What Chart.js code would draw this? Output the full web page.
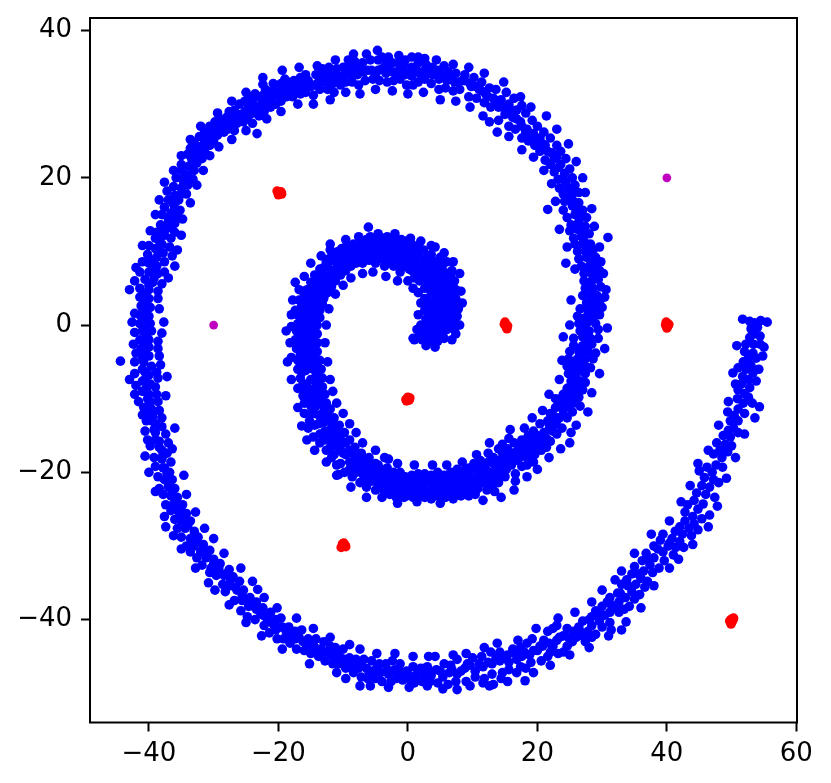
<!DOCTYPE html>
<html><head><meta charset="utf-8">
<style>html,body{margin:0;padding:0;background:#fff}canvas{display:block}</style>
<script src="https://cdn.jsdelivr.net/npm/chart.js@4"></script>
</head><body><canvas id="c" width="831" height="783"></canvas>
<script>
const xTicks=[-40,-20,0,20,40,60];
const yTicks=[-40,-20,0,20,40];
const redPoints=[[-20.2,18.2],[-19.8,17.9],[-19.5,17.8],[-19.9,18],[-19.6,18.1],[-20,17.7],[15,0.4],[15.1,0],[15.2,-0.3],[15.3,-0.5],[14.9,0.1],[15.4,-0.1],[39.9,0.4],[40,0],[40.2,-0.1],[40,-0.4],[39.8,0],[40.3,0.1],[-0.3,-10.1],[0,-9.8],[0.2,-10.2],[0.1,-10],[-0.2,-10.3],[0.3,-9.9],[-10.3,-30.2],[-10,-30],[-9.9,-29.6],[-9.7,-29.9],[-10.1,-29.7],[-9.6,-30.1],[49.9,-40],[50.1,-39.9],[50,-40.4],[49.9,-40.6],[50.2,-40.1],[49.7,-40.2],[50.3,-39.8]];
const purplePoints=[[40,20],[-30,0]];
const tailArm=[[55.5,0.4],[54.5,0.6],[53.5,0.3],[52.8,0.5],[51.7,0.8],[53,-0.5],[54,-0.3],[53.6,-1.2],[54.4,-1.5],[52.8,-1.7],[53.4,-2.6],[52.2,-2.6],[54.4,-2.6],[52,-3.6],[53.3,-3.8],[52.6,-4.5],[53.8,-4.5],[54.8,-4.2],[51.8,-5],[53,-5.5],[52.2,-6],[53.3,-6.5],[50.2,-6.5],[51.7,-7],[52.6,-7.4],[53.8,-7.6],[51.5,-8],[52.8,-8.5],[51,-8.8],[52,-9.3],[52.6,-9.8],[50.9,-10],[49.5,-10.4],[51.8,-10.6],[53.2,-10.6],[54.3,-11.1],[51,-11.4],[52,-12],[50.4,-12.3],[49.8,-13],[51,-13],[50.3,-14],[49.5,-14.3],[51,-14.6],[48.7,-15],[49.8,-15.2],[47.7,-16],[49,-16.2],[50,-16.4],[48.2,-17],[49.4,-17.2],[47.2,-17.5],[48.5,-18],[44.8,-18.8],[46.2,-19.3],[47.6,-19],[48.6,-19.3],[47,-20],[45.8,-20.7],[47.2,-21],[48,-21.4],[45.4,-21.8],[46.6,-22],[44.6,-22.8],[46,-23],[47.4,-23.4],[44.2,-23.8],[45.6,-24.3],[43.2,-24.4],[44.8,-25],[46.6,-25.8],[42.8,-25.4],[44,-26],[45.4,-26.3],[42.8,-26.6],[44.2,-27],[42,-27.4],[43.4,-27.6],[44.8,-27.8],[41.3,-28],[42.4,-28.4],[43.8,-28.6],[39.4,-28.4],[40.8,-29],[42,-29.4],[39,-29.2],[40.2,-30],[41.4,-30.2],[42.6,-30.2],[38,-30],[39.4,-30.8],[41,-31.2],[36.8,-31],[38,-31.6],[39.6,-32],[36.2,-32],[37.4,-32.6],[38.8,-33],[35,-32.8],[36.4,-33.4],[37.8,-33.6],[34.6,-33.8],[36,-34.4],[37,-34.8],[32,-34.6],[33.8,-34.6],[35.2,-35.2],[36.6,-35.6],[33,-35.2],[34.6,-36.2],[35.8,-36.6],[32.4,-36.4],[33.6,-37],[35,-37.2],[31.2,-37],[32.6,-37.6],[34.2,-38.2],[30.8,-37.6],[32.2,-38.4],[33.4,-38.6],[30,-38.2],[31.2,-39],[32.6,-39],[33.7,-40.3],[29,-38.8],[30.4,-39.4],[28.4,-39.6],[29.6,-40.2],[31.2,-40.4],[27,-40.2],[28.4,-40.8],[30,-41],[26.4,-41],[27.8,-41.6],[29,-42],[31,-42.2],[25.6,-41.6],[27,-42.2],[28.4,-42.4],[23,-40.8],[24.6,-41.2],[26,-42.4],[27.4,-43],[22.4,-41.2],[24,-42.2],[25.4,-43],[21.6,-41.6],[23,-42.8],[24.6,-43.6],[21,-42.8],[22.4,-43.6],[24,-44.4],[19.2,-42.6],[20.8,-43.6],[22,-44.4],[23.2,-44.6],[18.4,-43.2],[20,-44.2],[21.6,-45],[17.4,-43.8],[18.8,-44.8],[20.6,-45.6],[16.2,-44],[17.6,-45],[19,-45.8],[15.4,-44.8],[16.8,-45.4],[18.2,-46.6],[14.2,-44.4],[15.6,-45.8],[17.4,-46.4],[18.1,-48.3],[12.8,-44.4],[14.2,-45.6],[15.6,-46.8],[16.8,-47.2],[11.4,-45],[13,-46],[14.6,-47.2],[10,-45.2],[11.6,-46.4],[13,-47.4],[14.4,-48],[9.2,-46],[10.4,-47],[11.8,-48],[13.2,-48.8],[7.6,-45.4],[8.8,-46.6],[10.4,-47.8],[11.6,-48.6],[6.6,-46.2],[7.6,-47.4],[9,-48.4],[7.6,-49.5],[5.6,-46],[6.4,-47.2],[7.4,-48.4],[4.2,-45],[4.4,-46.8],[5.4,-47.8],[6.2,-48.8],[3,-46.4],[3.6,-47.6],[4.6,-48.6],[2,-46.6],[2.6,-47.6],[3.4,-48.4],[0.8,-46.4],[1.2,-47.6],[2.2,-48.4],[-0.2,-47],[0.2,-48],[1,-48.6]];
const bottomArm=[[-1.2,-46],[-1,-47.2],[-0.8,-48.2],[-2.4,-45.6],[-2,-46.8],[-1.8,-48],[-3.4,-46],[-3,-47.4],[-2.6,-48.4],[-4.4,-46],[-4.2,-47.2],[-4,-48.4],[-5.8,-49],[-5.6,-45.6],[-5.4,-47],[-5,-48],[-6.8,-45.4],[-6.4,-46.6],[-6.2,-48],[-8,-45.4],[-7.6,-46.6],[-7.2,-47.8],[-9,-45.2],[-8.8,-46.4],[-8.4,-47.2],[-10,-44],[-9.8,-45.4],[-9.6,-46.6],[-11.2,-43.8],[-10.8,-44.8],[-10.6,-46],[-12,-43.6],[-11.8,-44.8],[-11.6,-46],[-13,-43],[-13,-44.4],[-12.8,-45.6],[-14.2,-42.6],[-14,-44],[-13.8,-45],[-15.4,-42.6],[-15.2,-43.6],[-15,-44.6],[-16.4,-41.4],[-16.2,-43],[-16,-44.2],[-17.4,-41.6],[-17.4,-42.6],[-17.2,-44],[-18.4,-41],[-18.4,-42.2],[-18.2,-43.2],[-19.6,-39.8],[-19.4,-41],[-19.2,-42.6],[-20.4,-40],[-20.4,-41.4],[-20.2,-42.6],[-21.2,-39],[-21.4,-40.2],[-21.4,-41.8],[-22.4,-38.4],[-22.4,-39.4],[-22.2,-40.8],[-23.2,-35.9],[-23.4,-37.6],[-23.4,-38.6],[-23.6,-40],[-24.4,-37],[-24.6,-38.2],[-24.8,-39.6],[-25.4,-36],[-25.6,-37.4],[-25.8,-38.8],[-26,-34.8],[-26.4,-36],[-26.8,-37.4],[-27,-34.2],[-27.4,-35.4],[-28.2,-36.2],[-27.6,-33.2],[-28.4,-34],[-28.6,-35.2],[-29,-32.4],[-29.4,-33.2],[-29.6,-34],[-30,-31.8],[-30.4,-33],[-30.6,-33.6],[-30.6,-30.6],[-31.2,-31.6],[-31.8,-32.6],[-31.6,-29.8],[-32,-30.8],[-32.6,-31.6],[-32.4,-28.8],[-33,-30],[-33.6,-30.8],[-33,-28],[-33.6,-29],[-34.2,-30],[-33.6,-26.6],[-34.4,-27.6],[-35,-28.8],[-34.2,-25.6],[-35,-26.6],[-35.6,-27.6],[-37.4,-27.4],[-34.8,-24.4],[-35.4,-25.4],[-36,-26.4],[-35.6,-23.4],[-36.2,-24.4],[-36.6,-25.2],[-36,-22.2],[-36.6,-23.2],[-37.4,-24.4],[-36.4,-21],[-37,-22],[-37.8,-23],[-36.8,-20],[-37.6,-21],[-38.4,-22.2],[-36.6,-18.6],[-37.6,-19.4],[-38.6,-20.6],[-37.2,-17.4],[-38,-18.2],[-39,-19.2],[-37,-16],[-38,-17],[-39.2,-18],[-37.4,-14.8],[-38.4,-15.8],[-39.8,-16.4],[-38,-13.8],[-39,-14.6],[-40.2,-15.6],[-38,-12.6],[-39,-13.4],[-40.6,-14.4],[-38.4,-11.6],[-39.4,-12.4],[-40.4,-13],[-38.6,-10.4],[-39.6,-11.4],[-41,-12.2],[-38.8,-9.4],[-39.8,-10.4],[-40.8,-11.2],[-39,-8.4],[-40,-9.4],[-41.6,-10.4],[-38.6,-7.2],[-39.8,-8],[-41,-9],[-42.2,-9.4],[-38.8,-6.4],[-40,-6.8],[-41,-7.6],[-42,-8.2],[-38.2,-5.4],[-39.6,-5.6],[-41,-6],[-42.2,-6.6],[-38.4,-4.2],[-40,-4.2],[-41,-4.4],[-42.2,-5],[-44.4,-4.9],[-38.6,-3.2],[-40,-3],[-41.2,-3.2],[-42,-3.8],[-38.6,-2.2],[-40,-2],[-41.4,-2],[-38,-1.1],[-39.6,-0.8],[-41,-0.8],[-42.2,-1],[-39.8,0.2],[-41.4,0.2],[-42.6,0.4],[-37.7,0.4],[-40,1.2],[-41.4,1.4],[-42.2,1.6]];
const leftArm=[[-38.4,2.2],[-39.8,2.4],[-41.2,2.6],[-38.6,3.6],[-40,3.6],[-41.4,3.8],[-43,4.8],[-38.6,4.6],[-40,4.8],[-41.4,5],[-42.2,6],[-38,5.6],[-39.4,5.8],[-40.6,6.2],[-38.6,7],[-40,7.2],[-41.4,7.2],[-37.6,7.2],[-38.8,8],[-40,8.4],[-41,8.6],[-37.6,8.6],[-38.8,9.2],[-40.2,9.6],[-37.8,9.8],[-39,10.4],[-40,10.8],[-36.8,10.6],[-38,11],[-39,11.8],[-36.6,11.8],[-37.6,12.2],[-38.8,12.6],[-36,12.6],[-37,13.2],[-38.2,13.6],[-36,13.8],[-37,14.4],[-38,15],[-35.6,14.8],[-36.6,15.2],[-37.6,16],[-35.2,15.6],[-36.2,16.4],[-37,17],[-35.4,17],[-36,17.6],[-37.2,18.2],[-34.2,17.8],[-35,18.6],[-36.2,18.8],[-34,19],[-34.8,19.8],[-35.8,20],[-33.2,19.8],[-34.2,20.4],[-35,21],[-33,21],[-33.8,21.6],[-35,21.8],[-32.6,22],[-33.4,22.6],[-34,23.2],[-31.8,22.6],[-32.8,23.4],[-33.6,24],[-31.4,23.6],[-32.2,24.2],[-33,24.8],[-30.6,24.4],[-31.4,25],[-32.2,25.6],[-30,25],[-30.8,25.8],[-31.4,26.2],[-29.4,25.8],[-30,26.4],[-30.6,27],[-28.4,26.2],[-29.2,27],[-29.8,27.6],[-27.8,26.6],[-28.4,27.4],[-29,28],[-26.8,26.4],[-27.6,27.6],[-28,28.2],[-26.4,27.4],[-27,28],[-27.6,29],[-25.4,27.6],[-26.2,28.6],[-26.8,29.2],[-23.3,26],[-24.8,28.2],[-25.2,29],[-26,30],[-24,27.4],[-24,28.8],[-24.6,29.6],[-25.2,30.4],[-23,28.4],[-23.4,29.6],[-24,30.4],[-24.6,31],[-22.2,29],[-22.6,30],[-23,31],[-23.6,31.4],[-21.2,29.6],[-21.8,30.8],[-22.4,31.2],[-22.4,32.7],[-20.4,30],[-21,31],[-21.4,31.6],[-22,32],[-19.6,30.4],[-20,31.2],[-20.6,32],[-20.8,32.8],[-18.8,31],[-19.2,32],[-19.6,32.8],[-17.8,31],[-18.2,32],[-18.6,33],[-19,33.4],[-16.6,31.4],[-17,32.4],[-17.6,33.2],[-15.8,31.6],[-16.2,32.6],[-16.6,33.6],[-14.6,31.2],[-15,32.4],[-15.4,33.2],[-15.8,34],[-13.6,32],[-13.8,33],[-14.2,34],[-12.4,32],[-12.8,33],[-13,34.2],[-13.2,34.8],[-11.4,31.6],[-11.6,32.8],[-12,34],[-12.2,35],[-10.4,32.6],[-10.8,33.8],[-11,34.8],[-9.6,33],[-9.8,34],[-10,35],[-8.6,33],[-8.8,34],[-9,35.2],[-9.2,36],[-7.6,32.6],[-7.8,34],[-8,35],[-8.2,35.8],[-6.6,33.2],[-6.8,34.4],[-7,35.6],[-5.4,33.4],[-5.6,34.6],[-5.8,36],[-4.7,37.3],[-4.4,33.2],[-4.6,34.6],[-4.6,36],[-4,36.4],[-3.2,33],[-3.4,34.2],[-3.4,35.4],[-2.2,33.2],[-2.4,34.4],[-2.4,35.6],[-1.2,33.4],[-1.4,34.6],[-1.4,35.6],[-0.2,32.6],[-0.4,34],[-0.6,35.4],[-0.4,36],[0.8,32.6],[0.6,33.8],[0.6,35],[0.6,36.4],[1.6,33],[1.6,34.4],[1.6,35.6],[2.6,36.2],[2.6,33.4],[2.6,34.6],[2.8,35.4]];
const topArm=[[3.6,32.8],[3.8,34],[3.8,35],[4.8,32],[4.8,33.4],[4.8,34.6],[5.6,35.2],[5.8,32.2],[6,33.2],[6.2,34.4],[7,31.8],[7.2,33],[7.4,34.2],[8,32],[8.4,33.2],[8.8,34],[9.4,31],[9.8,32.4],[10.2,33.6],[10.6,30.8],[11,32],[11.4,33],[11.8,30.2],[12,31.4],[12.6,32.2],[12.8,29.6],[13.2,30.8],[13.6,32],[12.6,27.6],[14,29.6],[14.4,30.6],[15.2,31.6],[14,27.8],[15,28.6],[15.6,30],[16.4,30.8],[15.6,27],[16.2,28.2],[16.8,29.2],[17.6,29.8],[16.6,26.6],[17.4,27.6],[18.2,28.8],[17.6,25.4],[18.4,26.6],[19.2,27.8],[18.6,25],[19.4,26],[20,27],[19.6,24.4],[20.4,25.4],[21,26.2],[20.4,23.6],[21.2,24.4],[22,25.4],[21.2,22.4],[22.2,23.4],[23,24.4],[22,21.8],[23,22.8],[23.6,23.6],[22.6,20.8],[23.6,21.8],[24.4,22.6],[23.2,19.8],[24.2,20.6],[25,21.2],[21.6,15.7],[23.4,18.6],[24.4,19.4],[25.4,20],[24,17.8],[25,18.4],[25.8,19],[24.2,16.8],[25.2,17.4],[26.4,18],[24,15.6],[25.4,16.2],[26.4,16.6],[24.6,14.6],[25.8,15],[27,15.6],[25.2,13.6],[26.4,14],[27.6,14.6],[25,12.8],[26.2,13],[27.4,13.4],[25.6,11.8],[26.8,12],[28,12.4],[30.9,11.9],[25.8,11],[27,11],[28.2,11],[26.2,10],[27.4,10],[28.6,10.2],[26.4,9],[27.6,9.2],[29,9.2],[26.8,8],[28,8],[29,8.2],[29.8,8.6],[25.8,7.6],[27.2,7],[28.4,7],[29.6,7.4],[27.2,6],[28.4,6],[29.4,6.2],[27.4,5],[28.6,5],[29.8,5.2],[27,4],[28.2,4],[29.2,4],[30.6,4.8],[27.6,3],[28.8,3],[29.6,3],[26.6,2.2],[27.8,2],[29,2.2],[30,2.4],[26.2,1.2],[27.4,1],[28.6,1],[29.6,1.4],[26.4,0.2],[27.6,0.2],[29,0.2],[26.6,-0.8],[28,-0.8],[29.4,-0.6],[25.6,-1.8],[27,-1.6],[28.2,-1.8],[29.4,-1.8],[25.6,-2.8],[27,-2.8],[28.4,-2.6],[25,-3.6],[26.4,-3.6],[27.8,-3.6],[29,-3.8]];
const rightArm=[[24.8,-4.6],[26.2,-4.6],[27.4,-4.6],[28.6,-4.6],[24.6,-5.6],[26,-5.6],[27.4,-5.6],[28.2,-5.8],[24.8,-6.6],[26,-6.6],[27.4,-6.6],[25.2,-7.6],[26.6,-7.6],[27.4,-7.8],[24.6,-8.6],[25.8,-8.6],[27,-8.8],[24,-9.4],[25.4,-9.4],[26.4,-9.8],[22.8,-10],[24.2,-10.4],[25.6,-10.6],[26.6,-11],[22.8,-11.2],[24,-11.6],[25.4,-11.8],[22,-12],[23.4,-12.6],[24.6,-12.6],[21.6,-13],[22.8,-13.4],[23.8,-14],[20.4,-13.4],[21.8,-14.2],[23,-14.8],[25,-16],[19.4,-14.4],[20.8,-15.2],[22,-15.8],[18.6,-15],[20,-16],[21.4,-16.6],[17.6,-15.6],[19,-16.6],[20.6,-17],[16.4,-16],[18,-17],[19.6,-17.6],[15.6,-15.4],[16.8,-17.2],[18.4,-18],[19.4,-18.6],[14.6,-16.2],[15.8,-17.6],[17,-18.4],[18.4,-19],[14,-16.8],[15,-18],[16,-19],[17.6,-19.2],[13.2,-18],[14.2,-18.8],[15.2,-19.6],[16.6,-20.2],[12.4,-17.4],[13.2,-18.8],[14,-19.8],[15,-20.6],[16.6,-21.2],[11.2,-18.4],[12,-19.6],[13,-20.6],[14,-21.4],[10.2,-18.8],[11,-20],[12,-21],[13,-22],[9.4,-19.4],[10,-20.8],[11,-21.6],[12.2,-22.4],[13.4,-22.6],[8.6,-19.8],[9,-21],[9.8,-22],[10.4,-23],[7.6,-19.6],[8,-21],[8.8,-22.2],[9.4,-23.2],[6.6,-20],[7,-21.2],[7.6,-22.4],[8.2,-23.2],[5.6,-20.4],[6,-21.6],[6.4,-22.8],[7,-23.6],[4.6,-20],[5,-21.2],[5.4,-22.4],[5.8,-23.4],[3.6,-20.4],[4,-21.6],[4.4,-22.6],[2.6,-20.2],[2.8,-21.4],[3.4,-22.6],[3.6,-23.6],[1.6,-20.2],[1.8,-21.2],[2.2,-22.4],[2.6,-23.4],[0.6,-20.4],[0.8,-21.6],[1.2,-22.8],[-0.4,-20.6],[-0.2,-21.8],[0.2,-23],[-1.2,-20],[-1.2,-21.4],[-0.8,-22.4],[-0.6,-23.4],[-2.2,-20],[-2.2,-21.2],[-2,-22.4],[-1.8,-23.4],[-3.2,-19.4],[-3.2,-20.6],[-3,-21.8],[-2.8,-23],[-3.6,-18],[-4.2,-19.6],[-4.2,-21],[-4,-22.2],[-5,-18.8],[-5,-20],[-5,-21],[-5,-22.4],[-6,-18],[-6,-19.4],[-6,-20.6],[-6.4,-22],[-7.2,-17.4],[-7,-18.8],[-7,-20.2],[-7.4,-21.4],[-8.2,-16.6],[-8,-18],[-8,-19.4],[-8.6,-20.6],[-9,-15.6],[-9,-17],[-9,-18.6],[-9.8,-20],[-10.7,-20.3]];
const innerLeftArm=[[-9.8,-14.6],[-10,-16],[-10,-17.4],[-11,-19],[-10.6,-13.6],[-11,-15],[-11,-16.4],[-11.8,-18],[-11.4,-12.6],[-11.8,-14],[-12,-15.4],[-12.6,-17],[-12,-11.4],[-12.4,-13],[-12.8,-14.4],[-13.6,-16],[-12.6,-10.6],[-13.2,-12],[-13.8,-13.4],[-14.6,-15.2],[-16.4,-13.7],[-15.4,-14],[-12.8,-9.4],[-13.6,-10.6],[-14.4,-12],[-15.2,-13],[-16,-12],[-13.2,-8.4],[-14,-9.6],[-15,-11],[-16,-10.6],[-13.2,-7.2],[-14.2,-8.4],[-15.2,-9.4],[-16.2,-9.6],[-17,-8.6],[-13.4,-6],[-14.4,-7.2],[-15.6,-8],[-16.6,-7.2],[-13.6,-4.8],[-14.6,-6],[-15.8,-6.2],[-17,-6],[-14,-3.6],[-15,-4.6],[-16,-4.8],[-17,-4.8],[-18,-4.4],[-14,-2.4],[-15,-3.2],[-16.2,-3.4],[-17.2,-3.2],[-14,-1.2],[-15,-2],[-16.2,-2.2],[-17.4,-2],[-18.2,-2.4],[-14,0],[-15,-0.8],[-16,-1],[-17.2,-0.8],[-13.6,1],[-14.6,0.4],[-15.8,0.2],[-17,0.2],[-18,-0.2],[-13.6,2],[-14.6,1.6],[-15.8,1.4],[-17,1.4],[-13.2,2.8],[-14.2,2.8],[-15.4,2.6],[-16.4,2.6],[-17.4,2],[-13,3.6],[-14,3.8],[-15,3.8],[-16,3.6],[-12.4,4.4],[-13.4,4.8],[-14.4,5],[-15.6,4.8],[-16.8,4.8],[-11.8,5.2],[-12.8,5.8],[-13.8,6],[-15,5.8],[-11.2,6],[-12,6.8],[-13.2,7],[-14.4,6.8],[-10.4,6.8],[-11.4,7.4],[-12.4,8],[-13.6,7.6],[-9.6,7.4],[-10.6,8],[-11.6,8.8],[-12.6,8.6],[-8.8,8],[-9.8,8.6],[-10.8,9.4],[-11.6,9.4],[-8,8.4],[-8.8,9.2],[-9.8,9.8],[-10.8,10],[-12,10.2]];
const innerTopArm=[[-7,8.4],[-7.8,9.4],[-8.6,10.2],[-9.6,10.6],[-6,8.8],[-6.8,9.8],[-7.6,10.6],[-8.4,11],[-5,8.4],[-5.6,9.6],[-6.4,10.6],[-7.2,11],[-4.4,9],[-4.8,10.2],[-5.4,11],[-6.4,11.6],[-6.1,13.3],[-3.6,8],[-3.8,9.4],[-4.2,10.4],[-4.8,11.4],[-5.8,12],[-3,8.8],[-3,10],[-3.4,11],[-4,11.8],[-2.2,8],[-2.2,9.2],[-2.4,10.4],[-2.6,11.4],[-3.2,12],[-1.2,7.2],[-1.4,8.6],[-1.6,9.8],[-1.8,11],[-2,11.8],[-0.4,8],[-0.6,9.4],[-0.8,10.4],[-1,11.6],[0.2,7.6],[0.2,8.6],[0,9.8],[-0.2,11],[-0.2,11.4],[1,6.4],[1,7.8],[0.8,9],[0.8,10],[0.6,11],[1.8,6],[1.8,7.4],[1.6,8.6],[1.6,9.8],[1.6,10.8],[2.6,5],[2.6,6.4],[2.6,7.6],[2.6,9],[2.4,10.2],[3.6,5.4],[3.6,6.6],[3.6,7.6],[3.8,8.8],[3.6,9.6],[4.2,10.6],[4.4,4],[4.4,5],[4.6,6.2],[4.6,7.4],[4.6,8.4],[5,9.2],[5.4,4],[5.4,5.2],[5.6,6.2],[5.6,7.2],[5.4,8.2],[6,8.6],[6.4,3.4],[6.4,4.6],[6.6,5.6],[6.6,6.8],[6.8,7.4],[7.2,6],[7.4,4.8],[7.4,3.6],[7.8,2.2],[7.6,1.2],[3.6,4.4],[2.6,3.6],[3.6,3],[4.6,2.8],[5.6,2.8],[6.6,2.2],[2.6,2],[3.4,1.6],[4.4,1.4],[5.4,1.4],[6.4,1],[7.2,0.6],[2.8,0.8],[3.6,0.2],[4.6,0],[5.6,0.2],[6.4,-0.4],[7.2,-0.6],[2.6,-0.4],[3.4,-1],[4.6,-1],[5.6,-0.8],[0.8,-1.8],[1.8,-1.4],[2.2,-2],[3.4,-2.2],[4.6,-2.2],[5.6,-1.8],[1,-2],[7.4,-1.2]];
const outerFill=[[40.4,-29.6],[38.6,-30.4],[37.2,-32],[35.6,-33.8],[34,-35.4],[32.8,-36.4],[31.4,-38],[29.6,-39.2],[28,-40],[26.6,-41.6],[24.8,-42.4],[23.4,-42.4],[21.8,-43.2],[20.4,-43.6],[19.4,-44.2],[18,-44.4],[16.6,-44.6],[15,-45.2],[13.6,-45.2],[12.4,-45.8],[11,-46],[9.6,-46.2],[8.2,-47],[6.8,-46.8],[5,-47],[3.2,-47],[1.6,-47.2],[0,-47.4],[-1.6,-47.4],[-3.2,-46.8],[-4.8,-46.6],[-6,-47.2],[-7.2,-46.2],[-8.4,-46],[-9.2,-45.8],[-10.4,-45.2],[-11.4,-45.4],[-12.4,-44.4],[-13.4,-44],[-14.6,-43.4],[-15.6,-43.2],[-16.8,-42.4],[-17.8,-42.2],[-18.8,-41.6],[-19.8,-41],[-20.8,-40.6],[-21.8,-39.8],[-22.8,-39],[-23.8,-38.2],[-24.8,-37.6],[-25.6,-36.8],[-26.6,-35.6],[-27.4,-34.6],[-28.2,-33.8],[-29.2,-33],[-30,-32.4],[-31,-31],[-31.6,-30.4],[-32.6,-29.4],[-33.2,-28.8],[-34,-27.2],[-34.8,-26.2],[-35.2,-25],[-36,-24],[-36.4,-22.8],[-37,-21.4],[-37.2,-20.2],[-37.8,-19.4],[-38,-18],[-38.4,-16.6],[-39,-15.6],[-39.2,-14.2],[-39.6,-13],[-40,-12],[-40.2,-11],[-40.2,-10],[-40.4,-8.6],[-40.6,-7.4],[-40.6,-6.4],[-40.8,-5],[-40.6,-3.6],[-40.8,-2.6],[-40.4,-1.4],[-40.6,-0.4],[-40.8,0.8],[-40.6,1.8],[-40.6,3],[-40.8,4.2],[-40,5.4],[-39.2,6.4],[-39.2,7.6],[-39.4,8.8],[-38.6,10],[-38.4,11.4],[-37.6,12.8],[-37,13.8],[-36.4,14.6],[-36,15.8],[-35.8,16.8],[-35,17.8],[-34.6,19.2],[-34,20.2],[-33.2,21.2],[-32.6,22.8],[-32,23.6],[-31,24.4],[-30.4,25.4],[-29.6,26.2],[-28.8,26.8],[-28,27.2],[-27,27.2],[-26,28],[-25.4,28.6],[-24.4,28.6],[-23.6,29.2],[-22.6,29.4],[-21.6,30.2],[-20.6,31.4],[-19.6,31.4],[-18.6,32.4],[-17.6,32],[-16.6,32.6],[-15.4,32.4],[-14.4,32.6],[-13.4,33.4],[-12.2,33.2],[-11.2,33.4],[-10,33.6],[-9.2,34.4],[-8.2,34],[-7.2,34.4],[-6.2,34.6],[-5,34],[-4,34.8],[-3,34.6],[-1.8,34.2],[-0.8,34.8],[0.2,34.2],[1.2,34.8],[2,34],[3.2,34.2],[4.4,34],[5.4,33.8],[6.6,33.6],[7.8,33],[8.8,33.2],[9.6,32.8],[10.6,32.4],[11.4,31.8],[12.4,31],[13.6,30.4],[14.6,29.6],[15.4,29],[16,29.2],[16.8,28],[17.6,27],[18.2,26.2],[19,25.4],[19.8,25],[20.8,24.6],[21.6,23.6],[22.6,22.6],[23.2,21.4],[24,19.8],[24.8,18.6],[25.4,17.8],[25.6,16.8],[26,15.6],[26.4,14.8],[26.8,13.4],[27,12.6],[27.2,11.4],[27.8,10.4],[28,9.4],[28.4,8.4],[28.4,7.6],[28.8,6.4],[28.2,5.4],[28.6,4.4],[28.6,3.4],[28.2,2.6],[28.2,1.4],[28,0.6],[27.4,-0.4],[27.6,-1.2],[27.6,-2.2],[27.2,-3.2],[26.6,-4.2]];
const innerFill=[[25.6,-5],[26.8,-5],[25.4,-6.2],[26.8,-6.2],[25.6,-7],[26,-7.4],[25.2,-8.2],[26.4,-8.2],[24.8,-9],[26,-9.2],[23.6,-10],[25,-10],[23.4,-11],[24.8,-11],[22.6,-12.4],[24,-12.2],[21.8,-13.4],[23,-13],[21,-14.6],[22.4,-14.4],[20,-15],[21.4,-15.4],[19.4,-15.8],[20.6,-16.2],[18.4,-16.2],[19.6,-16.6],[17.2,-16.6],[18.8,-17.4],[16.2,-17.4],[17.6,-17.8],[15.4,-16.8],[16.4,-18.2],[14.6,-17.4],[15.6,-18.4],[14,-18.4],[14.8,-19.2],[13.6,-19.4],[14.6,-20.2],[12.4,-18.6],[13.6,-20.8],[12.6,-20],[12.6,-21.4],[11.4,-19.2],[11.6,-20.4],[11.6,-21.4],[10.4,-19.6],[10.6,-21],[10.8,-22.2],[9.4,-20.4],[9.6,-21.4],[9.4,-22.6],[8.4,-20.6],[8.2,-21.8],[8.4,-23],[7.2,-20.4],[7.4,-21.6],[7.4,-23],[6.2,-20.8],[6.6,-22],[5.4,-21],[5.6,-22],[4.4,-20.8],[4.6,-22],[4.8,-23.2],[3.2,-21],[3.8,-22.2],[4.2,-23.2],[2.2,-20.8],[2.4,-22],[3,-23.2],[1.2,-20.8],[1.6,-22],[2,-23],[0.2,-21],[0.6,-22.2],[0.8,-23.4],[-0.8,-20.8],[-0.6,-22],[-0.2,-23.2],[-1.8,-20.6],[-1.6,-21.8],[-1.2,-22.8],[-2.6,-20.6],[-2.6,-21.8],[-2.4,-22.8],[-3.6,-20],[-3.6,-21.2],[-3.6,-22.4],[-4.6,-19],[-4.6,-20.4],[-4.6,-21.6],[-5.6,-19],[-5.6,-20],[-5.6,-21.2],[-6.6,-18.2],[-6.6,-19.6],[-6.6,-21],[-7.6,-18],[-7.6,-19],[-8,-20],[-8.6,-17.4],[-8.6,-18.6],[-9,-19.6],[-9.6,-16],[-9.6,-17.6],[-10.4,-18.8],[-10.4,-15.6],[-10.4,-17],[-11.4,-17.6],[-11,-14],[-11.4,-15.8],[-12,-16.6],[-11.8,-13],[-12.2,-14.6],[-12.8,-15.6],[-12.4,-12],[-13,-13.2],[-13.6,-14.8],[-13,-11],[-13.6,-12.4],[-14.4,-13.6],[-13.4,-9.8],[-14.2,-11],[-15,-12],[-13.6,-9],[-14.6,-10],[-15.6,-10.4],[-13.8,-7.8],[-14.8,-8.8],[-16,-8.8],[-14,-6.6],[-15,-7.4],[-16.2,-8],[-14,-5.4],[-15.2,-5.6],[-16.4,-6.4],[-14.4,-4.2],[-15.4,-5],[-16.6,-5.4],[-14.4,-3],[-15.6,-4],[-16.6,-4],[-14.6,-1.8],[-15.6,-2.8],[-16.8,-2.8],[-14.4,-0.6],[-15.6,-1.6],[-16.8,-1.6],[-14.2,0.4],[-15.4,-0.4],[-16.6,-0.4],[-14,1.4],[-15.2,0.8],[-16.4,0.8],[-13.8,2.4],[-15,2],[-16.4,2],[-13.6,3.2],[-14.6,3.2],[-15.8,3],[-16.8,3.4],[-12.8,4.2],[-13.8,4.4],[-15,4.4],[-16,4.2],[-12.4,5.2],[-13.4,5.4],[-14.4,5.6],[-11.6,6],[-12.6,6.4],[-13.8,6.6],[-10.8,6.8],[-11.8,7.4],[-13,7.8],[-10,7.8],[-11,8.4],[-12.2,9],[-9.2,8.4],[-10.2,9.2],[-11.2,9.8],[-8.4,8.8],[-9.2,9.6],[-10.2,10.4],[-7.4,8.8],[-8.2,9.8],[-9.2,10.6],[-6.6,9.2],[-7.2,10],[-8,10.8],[-5.6,9],[-6.2,10.2],[-7,10.8],[-5,9.6],[-5.6,10.4],[-6,11.2],[-4,9],[-4.4,9.8],[-5,10.8],[-3.4,9.4],[-3.8,10.6],[-4.4,11.2],[-2.6,8.8],[-2.8,9.8],[-3.2,10.8],[-1.8,8.4],[-2,9.6],[-2.2,10.8],[-1,8.2],[-1.2,9.2],[-1.4,10.4],[-0.2,8.4],[-0.4,9.8],[-0.4,10.8],[0.6,7.4],[0.4,8.4],[0.4,9.6],[1.4,6.8],[1.2,8.2],[1.2,9.4],[2.2,6.2],[2.2,7.2],[2,8.4],[3.2,5.8],[3,7],[3,8.4],[3.2,9.4],[4,4.6],[4,6],[4.2,7],[4.2,8.2],[5,4.6],[5,5.8],[5,6.8],[5,7.8],[5.8,3.6],[6,4.8],[6,5.8],[6,7],[6.8,4.2],[7,5.2],[7,3],[3,3.4],[4.2,3.4],[5.2,3.4],[6,2.4],[7,2.4],[3,2.4],[4,2.2],[5,2],[6,1.6],[6.8,1.4],[3.2,1.2],[4,0.8],[5,0.8],[6,0.6],[6.8,0.2],[3.2,-0.4],[4.2,-0.4],[5.2,-0.4],[6,-0.6],[3,-1.4],[4,-1.6],[5,-1.6],[2,-0.8]];
const edgeFill=[[-37,6.4],[-36.4,9.4],[-42.4,-2.6],[-37.2,-7],[-37.4,-9.6],[-43,-7.4],[-36,-14],[-36.4,-16.8],[-40.6,-17.8],[-34.6,-20.4],[-40,-20],[-34.2,-23],[-39,-22.6],[-32.8,-25.4],[-37.6,-26],[-31.4,-27.6],[-36.2,-28.6],[-30,-29],[-35,-30.4],[-28.4,-31],[-32.8,-33],[-25.8,-33],[-30.8,-35],[-24,-34.8],[-29.8,-36],[-22.2,-37],[-27.6,-38],[-20.2,-38.4],[-25,-40.4],[-17.2,-39.8],[-22.6,-42.2],[-14.6,-41.2],[-19.4,-44],[-12,-42.4],[-15.2,-46],[-9,-43.4],[-11,-47.2],[-7.4,-44],[-9.6,-48],[-4.8,-44.6],[-7.4,-49],[-2,-44.6],[-3,-49.2],[0.8,-45],[0.2,-49.2],[3.2,-45],[3,-49],[5.4,-49.4],[7,-44.8],[9.6,-49],[9,-44.6],[12.6,-49],[11.8,-43.8],[15.4,-48.4],[13.8,-43.2],[19.4,-47.2],[17,-42.8],[22,-46.2],[19.8,-41.2],[25,-44.8],[23.2,-39.8],[28,-43.8],[25.8,-39],[31.4,-41.4],[28.4,-37.6],[33,-41.4],[30,-36],[36,-38.4],[33,-33.4],[38,-35.4],[35,-31],[40.4,-33],[37.6,-28.4],[41.8,-31.8],[40.4,-26.6],[44,-29.8],[42.2,-24],[46.4,-27.4],[43.6,-21.8],[47.8,-24.6],[45,-19.8],[49.2,-20.8],[46.4,-17],[50.6,-18],[48,-13.6],[52,-14.8],[49.4,-11.8],[53.6,-12.6],[50.6,-8],[54.2,-6],[51,-5.8],[50.8,-2.8],[55,-3],[30.8,-0.4],[30.4,3.8],[25.2,3.4],[25,0],[30.4,-3.2],[24,-1.6],[23.8,-4.8],[29.6,-6.6],[23.4,-7.4],[28.4,-9.2],[21.8,-9.4],[27.8,-11.8],[20.8,-11.6],[26,-13.6],[19.2,-12.6],[25.2,-14.6],[18,-14],[23.6,-16.8],[15.8,-14.2],[21.8,-18],[12.6,-16],[20,-19.6],[10.6,-17.6],[18.4,-20.6],[8.4,-18.6],[16.4,-22.4],[6,-19],[14.4,-23.4],[3.8,-19],[11.6,-23.8],[1,-19],[5,-24.2],[-1.6,-18.8],[1.4,-24],[-3,-18.2],[-1.6,-24.2],[-5,-17],[-4,-23.4],[-7,-16],[-6.4,-23.4],[-8,-14.6],[-8.8,-22],[-9,-13.4],[-11,-20.4],[-10,-12],[-12.6,-18.6],[-11,-10.6],[-14.4,-17],[-11.6,-9],[-15.6,-15.6],[-12,-7.4],[-17,-11.2],[-12.4,-5],[-18,-7.4],[-12.8,-2.4],[-18.6,-5],[-12.6,0],[-18.8,-0.8],[-12.2,2.2],[-18,1.4],[-11.2,4.2],[-17.8,3.4],[-10,5.4],[-17.4,5.8],[-8.8,6.4],[-16,6.6],[-7,7],[-15,8.4],[-5.4,7.2],[-13.4,9.4],[-3.4,6.6],[-12,11],[-1.6,6],[-9.6,11.6],[0,6],[-7.6,12],[0.8,5],[-4.6,12.4],[-2,12.4],[1.6,4.4],[0.4,11.8],[2,3],[2,11.4],[1.6,1.4],[3.6,10.8],[2,0],[5.6,9.8],[1.4,-0.6],[7,8.6],[8,7],[8.2,4.6],[8.4,3],[8,0],[6.8,-2],[2.8,-2.8],[4.2,-3],[29.6,10.6],[30.2,7],[24.6,10.6],[24.4,8.4],[28.8,13.4],[28.4,15.8],[23.4,13],[27.4,18],[22.8,16.8],[27,20],[22.2,19.2],[26,22.2],[21,21],[24.8,24.6],[19.4,22.8],[23,26.6],[17.6,23.8],[21.4,28.4],[15.6,25.6],[19,29.6],[13.8,26.2],[17.4,31],[11.6,28.4],[14.8,33],[9.6,29.6],[11.8,34.2],[7.4,30.4],[9.4,35],[5,30.6],[7,35.4],[2.4,31.6],[4.4,36],[0,31.4],[1.6,36.4],[-2.4,31.8],[-1.4,36.6],[-5,32],[-3,36.4],[-7.4,31.4],[-6.4,36.8],[-9.6,31.6],[-8.4,36.8],[-12,30.6],[-11.2,36],[-14.6,30],[-14,35.2],[-17,30],[-16.8,35],[-19.6,29],[-19.4,34.6],[-21.8,28],[-22.4,33.6],[-25,26.4],[-25,31.6],[-27.2,25.2],[-27.2,30.4],[-29.2,24.2],[-29.4,28.8],[-30.6,23],[-32,27],[-31.6,21],[-33.6,25.2],[-32.6,19],[-35,23],[-33.6,16.6],[-36.2,21],[-34.8,14.4],[-37.6,19.4],[-35,12.2],[-38.4,17],[-35.6,10.2],[-39,15],[-36,8],[-39.8,12.8],[-41,10.8],[-42,7.8]];
const toPts=a=>a.map(p=>({x:p[0],y:p[1]}));
const bluePoints=[...tailArm,...bottomArm,...leftArm,...topArm,...rightArm,...innerLeftArm,...innerTopArm,...outerFill,...innerFill,...edgeFill];
const frame={id:'frame',afterDatasetsDraw(c){const a=c.chartArea,x=c.ctx;x.save();x.strokeStyle='#000';x.lineWidth=2;x.strokeRect(a.left,a.top,a.right-a.left,a.bottom-a.top);x.restore();}};
const fmt=v=>String(v).replace('-','\u2212');
const tickFont={family:'"DejaVu Sans"',size:26};
new Chart(document.getElementById('c'),{type:'scatter',plugins:[frame],
data:{datasets:[
{label:'spiral',data:toPts(bluePoints),backgroundColor:'#0000ff',borderWidth:0,pointRadius:4.8,order:3},
{label:'centers',data:toPts(redPoints),backgroundColor:'#ff0000',borderWidth:0,pointRadius:4.8,order:1},
{label:'extra',data:toPts(purplePoints),backgroundColor:'#bf00bf',borderWidth:0,pointRadius:4.4,order:2}]},
options:{responsive:false,animation:false,layout:{padding:{top:18,right:34,left:0,bottom:0}},
plugins:{legend:{display:false},tooltip:{enabled:false}},
scales:{
x:{type:'linear',min:-49.1,max:60.1,afterFit:s=>{s.height=60.5;s.paddingLeft=0;s.paddingRight=0},afterBuildTicks:s=>{s.ticks=xTicks.map(v=>({value:v}))},
grid:{drawOnChartArea:false,drawTicks:true,tickLength:9,tickWidth:2,tickColor:'#000'},border:{display:false},
ticks:{color:'#000',font:tickFont,padding:7,maxRotation:0,callback:fmt}},
y:{type:'linear',min:-53.97,max:41.7,afterFit:s=>{s.width=90;s.paddingTop=0;s.paddingBottom=0},afterBuildTicks:s=>{s.ticks=yTicks.map(v=>({value:v}))},
grid:{drawOnChartArea:false,drawTicks:true,tickLength:9,tickWidth:2,tickColor:'#000'},border:{display:false},
ticks:{color:'#000',font:tickFont,padding:9,callback:fmt}}
}}});
</script></body></html>
